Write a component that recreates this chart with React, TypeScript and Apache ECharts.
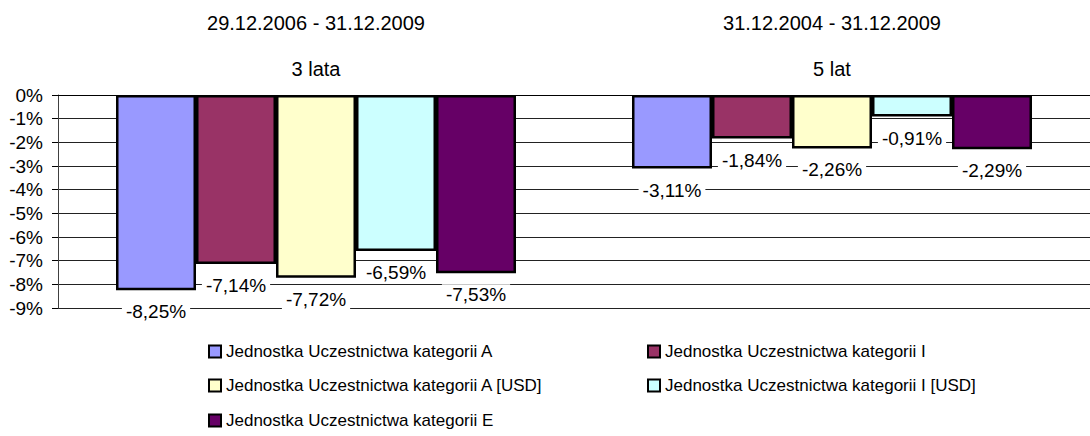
import React, { useEffect, useRef } from "react";
import * as echarts from "echarts";

const categories = ["29.12.2006 - 31.12.2009\n\n3 lata", "31.12.2004 - 31.12.2009\n\n5 lat"];
const seriesNames = [
  "Jednostka Uczestnictwa kategorii A",
  "Jednostka Uczestnictwa kategorii I",
  "Jednostka Uczestnictwa kategorii A [USD]",
  "Jednostka Uczestnictwa kategorii I [USD]",
  "Jednostka Uczestnictwa kategorii E",
];
const valuesA = [-8.25, -3.11];
const valuesI = [-7.14, -1.84];
const valuesAUsd = [-7.72, -2.26];
const valuesIUsd = [-6.59, -0.91];
const valuesE = [-7.53, -2.29];
const seriesValues = [valuesA, valuesI, valuesAUsd, valuesIUsd, valuesE];
const colors = ["#9999FF", "#993366", "#FFFFCC", "#CCFFFF", "#660066"];
const yMin = -9;
const yMax = 0;
const yStep = 1;

const FONT = "'Liberation Sans', Arial, sans-serif";

const legendPos = [
  { left: 208, top: 343 },
  { left: 647, top: 343 },
  { left: 208, top: 377 },
  { left: 647, top: 377 },
  { left: 208, top: 412 },
];

export default function App() {
  const ref = useRef<HTMLDivElement>(null);
  useEffect(() => {
    if (!ref.current) return;
    const chart = echarts.init(ref.current, undefined, { renderer: "svg" });
    const fmt = (v: number) => v.toFixed(2).replace(".", ",") + "%";
    chart.setOption({
      animation: false,
      backgroundColor: "#fff",
      textStyle: { fontFamily: FONT },
      grid: { left: 58, top: 95, width: 1045, height: 213, containLabel: false },
      legend: seriesNames.map((n, i) => ({
        data: [n],
        left: legendPos[i].left,
        top: legendPos[i].top,
        itemWidth: 12,
        itemHeight: 12,
        icon: "rect",
        itemStyle: { borderColor: "#000", borderWidth: 2 },
        textStyle: { fontSize: 17, color: "#000", fontFamily: FONT },
        selectedMode: false,
        padding: 0,
      })),
      xAxis: {
        type: "category",
        position: "top",
        data: categories,
        axisLine: { show: true, lineStyle: { color: "#000", width: 1 } },
        axisTick: { show: false },
        axisLabel: {
          color: "#000",
          fontSize: 20,
          lineHeight: 23,
          margin: 15,
          fontFamily: FONT,
          interval: 0,
        },
      },
      yAxis: {
        type: "value",
        min: yMin,
        max: yMax,
        interval: yStep,
        axisLine: { show: true, lineStyle: { color: "#404040", width: 1 } },
        axisTick: { show: true, length: 6, lineStyle: { color: "#000" } },
        splitLine: { show: true, lineStyle: { color: "#222", width: 1 } },
        axisLabel: {
          color: "#000",
          fontSize: 19,
          margin: 15,
          fontFamily: FONT,
          formatter: (v: number) => Math.round(v) + "%",
        },
      },
      series: seriesNames.map((n, i) => ({
        name: n,
        type: "bar",
        data: seriesValues[i],
        barWidth: 80,
        barGap: "0%",
        itemStyle: { color: colors[i], borderColor: "#000", borderWidth: 2.5 },
        label: {
          show: true,
          position: "bottom",
          distance: 11,
          color: "#000",
          fontSize: 19,
          fontFamily: FONT,
          backgroundColor: "#fff",
          padding: [1, 4],
          formatter: (p: any) => fmt(p.value),
        },
      })),
    });
    return () => chart.dispose();
  }, []);
  return (
    <div
      ref={ref}
      style={{ position: "fixed", left: 0, top: 0, width: 1090, height: 436, background: "#fff" }}
    />
  );
}
